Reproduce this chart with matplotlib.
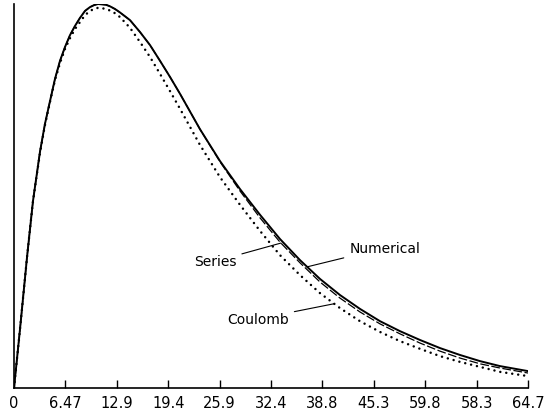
import numpy as np
import matplotlib.pyplot as plt

# values (y in arbitrary units, peak = 1)
x = [0, 0.76, 1.64, 2.39, 3.27, 3.90, 4.53, 5.16, 5.79, 6.42, 7.05, 7.68, 8.31,
     8.94, 9.57, 10.07, 10.57, 11.08, 11.58, 12.08, 12.71, 13.34, 14.60, 15.86,
     17.12, 18.38, 19.64, 20.90, 23.41, 25.93, 28.45, 30.97, 33.48, 36.00, 38.52,
     41.04, 43.55, 46.07, 48.59, 51.11, 53.62, 56.14, 58.66, 61.18, 64.70]
numerical = [0, 0.154, 0.341, 0.487, 0.615, 0.688, 0.747, 0.805, 0.852, 0.888,
             0.919, 0.943, 0.964, 0.982, 0.992, 0.997, 1.000, 0.999, 0.998, 0.994,
             0.987, 0.978, 0.958, 0.927, 0.893, 0.852, 0.810, 0.766, 0.674, 0.591,
             0.518, 0.451, 0.388, 0.333, 0.284, 0.242, 0.206, 0.174, 0.148, 0.125,
             0.104, 0.086, 0.070, 0.057, 0.044]
series = [0, 0.154, 0.341, 0.487, 0.615, 0.688, 0.747, 0.805, 0.852, 0.888,
          0.919, 0.943, 0.964, 0.982, 0.992, 0.997, 1.000, 0.999, 0.998, 0.994,
          0.987, 0.978, 0.958, 0.927, 0.893, 0.852, 0.810, 0.766, 0.674, 0.589,
          0.513, 0.443, 0.380, 0.326, 0.276, 0.234, 0.198, 0.167, 0.141, 0.117,
          0.096, 0.078, 0.063, 0.052, 0.039]
coulomb = [0, 0.154, 0.341, 0.487, 0.612, 0.685, 0.745, 0.802, 0.846, 0.883,
           0.911, 0.935, 0.953, 0.971, 0.982, 0.987, 0.990, 0.989, 0.987, 0.983,
           0.976, 0.966, 0.938, 0.901, 0.862, 0.818, 0.773, 0.727, 0.633, 0.549,
           0.477, 0.409, 0.346, 0.294, 0.247, 0.208, 0.174, 0.146, 0.122, 0.102,
           0.083, 0.068, 0.055, 0.042, 0.031]

tick_pos = np.linspace(0, 64.7, 11)
tick_labels = ["0", "6.47", "12.9", "19.4", "25.9", "32.4", "38.8", "45.3",
               "59.8", "58.3", "64.7"]

fig = plt.figure(figsize=(5.46, 4.14), dpi=100)
ax = fig.add_axes([14 / 546, 25 / 414, 514 / 546, 384 / 414])

ax.plot(x, numerical, color="black", lw=1.4, solid_joinstyle="round")
ax.plot(x, series, color="black", lw=0.9, dashes=(7, 2))
ax.plot(x, coulomb, color="black", lw=1.8, dashes=(0.01, 2.4),
        dash_capstyle="round")

ax.set_xlim(0, 64.7)
ax.set_ylim(0, 1.0)
ax.spines["top"].set_visible(False)
ax.spines["right"].set_visible(False)
ax.spines["left"].set_linewidth(1.2)
ax.spines["bottom"].set_linewidth(1.2)
ax.set_yticks([])
ax.set_xticks(tick_pos)
ax.set_xticklabels(tick_labels, fontsize=10.5)
ax.tick_params(axis="x", direction="in", length=6, width=1, pad=5)

arrow = dict(arrowstyle="-", color="black", lw=0.8, shrinkA=2, shrinkB=0)
ax.annotate("Series", xy=(33.6, np.interp(33.6, x, series)), xytext=(28.0, 0.33),
            ha="right", va="center", fontsize=10, arrowprops=arrow)
ax.annotate("Numerical", xy=(36.9, np.interp(36.9, x, numerical)),
            xytext=(42.2, 0.365), ha="left", va="center", fontsize=10,
            arrowprops=arrow)
ax.annotate("Coulomb", xy=(40.3, np.interp(40.3, x, coulomb)), xytext=(34.6, 0.18),
            ha="right", va="center", fontsize=10, arrowprops=arrow)

fig.savefig("out.png", dpi=100)
